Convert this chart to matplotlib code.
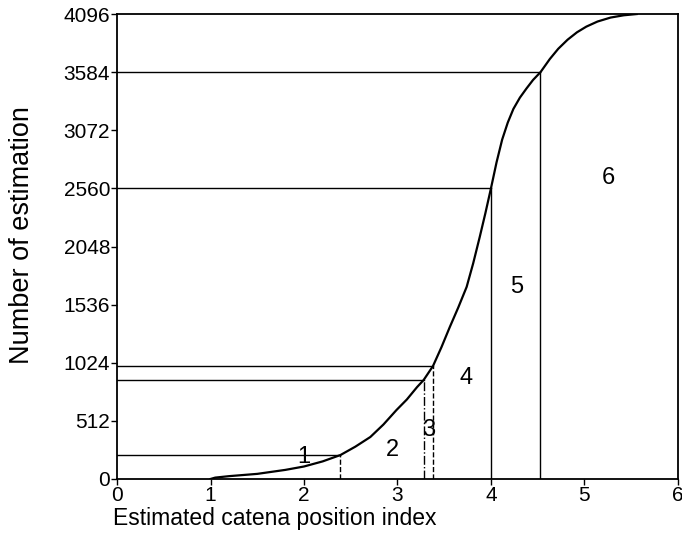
import numpy as np
import matplotlib
matplotlib.use('Agg')
import matplotlib.pyplot as plt

plt.rcParams['font.family'] = ['Liberation Sans', 'DejaVu Sans']

# cumulative curve
curve_x = [1.0, 1.05, 1.2, 1.5, 1.8, 2.0, 2.2, 2.39, 2.55, 2.71, 2.85, 2.99, 3.1, 3.21, 3.28, 3.38,
           3.47, 3.56, 3.65, 3.74, 3.81, 3.88, 3.94, 4.0, 4.06, 4.12, 4.18, 4.24, 4.31, 4.38, 4.45,
           4.53, 4.63, 4.72, 4.82, 4.92, 5.02, 5.14, 5.28, 5.42, 5.56]
curve_y = [0, 12, 25, 45, 80, 110, 155, 211, 285, 370, 480, 608, 700, 810, 872, 995,
           1160, 1339, 1510, 1692, 1900, 2132, 2340, 2560, 2790, 2990, 3140, 3260, 3360, 3440, 3515,
           3584, 3700, 3790, 3870, 3935, 3985, 4030, 4065, 4085, 4096]

# class boundaries (position index, number of estimation)
cut_x = [2.39, 3.28, 3.38, 4.0, 4.53]
cut_y = [211, 872, 995, 2560, 3584]
cut_style = ['--', '-.', '--', '-', '-']

region_labels = ['1', '2', '3', '4', '5', '6']
region_x = [2.0, 2.95, 3.33, 3.73, 4.28, 5.26]
region_y = [195, 255, 432, 890, 1692, 2652]

yticks = [0, 512, 1024, 1536, 2048, 2560, 3072, 3584, 4096]
xticks = [0, 1, 2, 3, 4, 5, 6]

fig = plt.figure(figsize=(6.82, 5.40), dpi=100)
ax = fig.add_axes([0.1716, 0.113, 0.8224, 0.861])

ax.plot(curve_x, curve_y, color='black', lw=1.6)
for cx, cy, ls in zip(cut_x, cut_y, cut_style):
    ax.plot([0, cx], [cy, cy], color='black', lw=1.0)
    ax.plot([cx, cx], [0, cy], color='black', lw=1.0, linestyle=ls)

for lab, lx, ly in zip(region_labels, region_x, region_y):
    ax.text(lx, ly, lab, fontsize=17, ha='center', va='center')

ax.set_xlim(0, 6)
ax.set_ylim(0, 4096)
ax.set_xticks(xticks)
ax.set_yticks(yticks)
ax.tick_params(axis='both', direction='out', length=4, width=1.0, labelsize=15, pad=1)
for sp in ax.spines.values():
    sp.set_linewidth(1.3)

ax.set_xlabel('Estimated catena position index', fontsize=16.5, ha='left')
ax.xaxis.set_label_coords(-0.008, -0.06)
ax.set_ylabel('Number of estimation', fontsize=19.5)
ax.yaxis.set_label_coords(-0.146, 0.524)

fig.savefig('out.png', dpi=100)
